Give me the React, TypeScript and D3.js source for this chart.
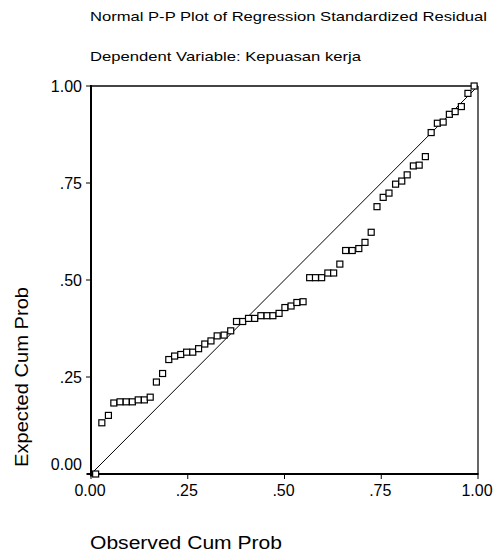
import React, { useRef, useEffect } from 'react';
import * as d3 from 'd3';

const width = 495;
const height = 554;

// observed cumulative probability (x) for each residual
const observed = [
  0.012, 0.028, 0.045, 0.059, 0.075, 0.091, 0.107, 0.122, 0.138, 0.153,
  0.169, 0.185, 0.201, 0.216, 0.232, 0.247, 0.263, 0.278, 0.294, 0.310,
  0.326, 0.344, 0.361, 0.376, 0.392, 0.407, 0.423, 0.439, 0.455, 0.470,
  0.486, 0.501, 0.517, 0.532, 0.548, 0.565, 0.580, 0.596, 0.612, 0.627,
  0.643, 0.658, 0.675, 0.692, 0.708, 0.724, 0.739, 0.755, 0.770, 0.787,
  0.803, 0.817, 0.833, 0.848, 0.864, 0.879, 0.895, 0.910, 0.926, 0.941,
  0.957, 0.974, 0.990,
];

// expected cumulative probability (y)
const expected = [
  0.000, 0.132, 0.151, 0.183, 0.186, 0.186, 0.186, 0.191, 0.191, 0.198,
  0.237, 0.259, 0.295, 0.304, 0.308, 0.314, 0.314, 0.323, 0.335, 0.343,
  0.356, 0.358, 0.369, 0.393, 0.393, 0.401, 0.401, 0.408, 0.408, 0.408,
  0.414, 0.429, 0.433, 0.442, 0.444, 0.506, 0.506, 0.506, 0.518, 0.518,
  0.541, 0.576, 0.576, 0.581, 0.597, 0.623, 0.689, 0.713, 0.724, 0.747,
  0.755, 0.771, 0.794, 0.796, 0.818, 0.880, 0.904, 0.907, 0.927, 0.934,
  0.947, 0.981, 1.000,
];

const ticks = [0, 0.25, 0.5, 0.75, 1];
const tickLabels = ['0.00', '.25', '.50', '.75', '1.00'];

const title = 'Normal P-P Plot of Regression Standardized Residual';
const subtitle = 'Dependent Variable: Kepuasan kerja';
const xTitle = 'Observed Cum Prob';
const yTitle = 'Expected Cum Prob';

const font = 'Arial, "Liberation Sans", sans-serif';

const App = () => {
  const ref = useRef<SVGSVGElement>(null);

  useEffect(() => {
    const svg = d3.select(ref.current);
    svg.selectAll('*').remove();

    const left = 91, right = 478, top = 86, bottom = 474;
    const x = d3.scaleLinear([0, 1], [left, right]);
    const y = d3.scaleLinear([0, 1], [bottom, top]);

    svg.append('rect').attr('width', width).attr('height', height).attr('fill', 'white');

    // the SPSS font runs wider than Arial, so stretch the strings to the measured widths
    svg.append('text')
      .attr('x', 90).attr('y', 21)
      .attr('textLength', 397).attr('lengthAdjust', 'spacingAndGlyphs')
      .style('font', `13.5px ${font}`)
      .text(title);
    svg.append('text')
      .attr('x', 90).attr('y', 61)
      .attr('textLength', 271).attr('lengthAdjust', 'spacingAndGlyphs')
      .style('font', `13.5px ${font}`)
      .text(subtitle);

    // frame
    svg.append('line')
      .attr('x1', x(0)).attr('x2', x(1)).attr('y1', y(1)).attr('y2', y(1))
      .attr('stroke', '#444').attr('stroke-width', 2);
    svg.append('line')
      .attr('x1', x(1)).attr('x2', x(1)).attr('y1', y(1)).attr('y2', y(0))
      .attr('stroke', 'black').attr('stroke-width', 1.2);

    // reference diagonal
    svg.append('line')
      .attr('x1', x(0)).attr('y1', y(0)).attr('x2', x(1)).attr('y2', y(1))
      .attr('stroke', 'black').attr('stroke-width', 1);

    // axes
    const xAxis = svg.append('g').attr('transform', `translate(0,${bottom})`);
    xAxis.append('line').attr('x1', x(0) - 4).attr('x2', x(1) + 0.5)
      .attr('stroke', 'black').attr('stroke-width', 2);
    ticks.forEach((t, i) => {
      xAxis.append('line').attr('x1', x(t)).attr('x2', x(t)).attr('y1', 0).attr('y2', 5)
        .attr('stroke', 'black').attr('stroke-width', 1);
      xAxis.append('text')
        .attr('x', x(t) - 1).attr('y', 22)
        .attr('text-anchor', 'middle')
        .style('font', `16px ${font}`)
        .text(tickLabels[i]);
    });

    const yAxis = svg.append('g').attr('transform', `translate(${left},0)`);
    yAxis.append('line').attr('y1', y(0) + 2.5).attr('y2', y(1) - 1)
      .attr('stroke', 'black').attr('stroke-width', 2);
    ticks.forEach((t, i) => {
      yAxis.append('line').attr('x1', -5).attr('x2', 0).attr('y1', y(t)).attr('y2', y(t))
        .attr('stroke', 'black').attr('stroke-width', 1);
      yAxis.append('text')
        .attr('x', -9).attr('y', t === 0 ? y(t) - 4 : y(t) + 6)
        .attr('text-anchor', 'end')
        .style('font', `16px ${font}`)
        .text(tickLabels[i]);
    });

    // points
    const sz = 6;
    svg.append('g')
      .selectAll('rect')
      .data(d3.zip(observed, expected))
      .join('rect')
      .attr('x', d => x(d[0]) - sz / 2)
      .attr('y', d => y(d[1]) - sz / 2)
      .attr('width', sz).attr('height', sz)
      .attr('fill', 'white')
      .attr('stroke', 'black')
      .attr('stroke-width', 1.2);

    svg.append('text')
      .attr('x', 90).attr('y', 549)
      .attr('textLength', 192).attr('lengthAdjust', 'spacingAndGlyphs')
      .style('font', `18px ${font}`)
      .text(xTitle);
    svg.append('text')
      .attr('transform', `translate(27.5,467) rotate(-90)`)
      .attr('textLength', 180).attr('lengthAdjust', 'spacingAndGlyphs')
      .style('font', `18px ${font}`)
      .text(yTitle);
  }, []);

  return (
    <svg ref={ref} width={width} height={height}
      style={{ position: 'absolute', left: 0, top: 0 }} />
  );
};

export default App;
